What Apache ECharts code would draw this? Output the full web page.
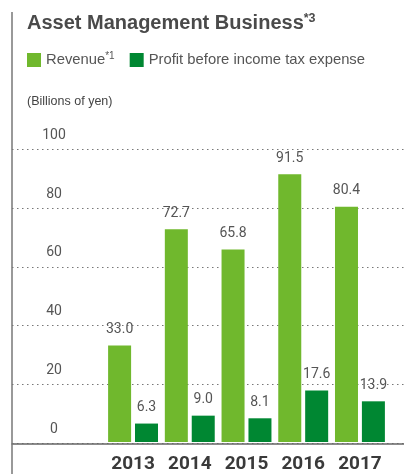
<!DOCTYPE html>
<html><head><meta charset="utf-8">
<script src="https://cdn.jsdelivr.net/npm/echarts@6/dist/echarts.min.js"></script>
<style>html,body{margin:0;padding:0;background:#fff}#c{width:404px;height:474px}</style>
</head><body><div id="c"></div>
<script>
const categories = ['2013','2014','2015','2016','2017'];
const revenue = [33.0, 72.7, 65.8, 91.5, 80.4];
const profit = [6.3, 9.0, 8.1, 17.6, 13.9];
const yTicks = [0, 20, 40, 60, 80, 100];

const chart = echarts.init(document.getElementById('c'), null, {renderer:'canvas'});
const labelStyle = {show:true, position:'top', distance:9, color:'#555', fontFamily:'Roboto', fontSize:14,
  formatter: p => p.value.toFixed(1)};
chart.setOption({
  animation:false,
  title:[
    {text:'Asset Management Business{sup|*3}', left:22, top:7, padding:5,
     textStyle:{fontFamily:'Liberation Sans', fontWeight:'bold', fontSize:20, color:'#4a4a4a',
       rich:{sup:{fontFamily:'Liberation Sans', fontWeight:'bold', fontSize:12.5, color:'#4a4a4a', verticalAlign:'top', padding:[0,0,10,0]}}}},
    {text:'(Billions of yen)', left:22, top:90,
     textStyle:{fontFamily:'Liberation Sans', fontWeight:'normal', fontSize:12.5, color:'#444'}}
  ],
  legend:{left:22, top:46, itemWidth:14, itemHeight:14, itemGap:15, icon:'rect',
    textStyle:{fontFamily:'Liberation Sans', fontSize:14.8, color:'#555',
      rich:{sup:{fontSize:10, color:'#555', padding:[0,0,8,0]}}},
    formatter: n => n === 'Revenue' ? 'Revenue{sup|*1}' : n,
    data:['Revenue','Profit before income tax expense']},
  grid:[
    {left:12, right:0, top:149.3, bottom:30.7},
    {left:104.7, right:15.7, top:149.3, bottom:30.7}
  ],
  xAxis:[
    {gridIndex:0, type:'value', min:0, max:1, axisLine:{show:true, onZero:false, lineStyle:{color:'#666', width:1.5}},
     axisTick:{show:false}, axisLabel:{show:false}, splitLine:{show:false}},
    {gridIndex:1, type:'category', data:categories, axisLine:{show:false}, axisTick:{show:false},
     axisLabel:{margin:13, fontFamily:'Roboto', fontWeight:'bold', fontSize:19, color:'#3a3a3a'}}
  ],
  yAxis:[
    {gridIndex:0, type:'value', min:0, max:100, interval:20, axisLine:{show:false}, axisTick:{show:false},
     axisLabel:{inside:true, margin:42, align:'center', verticalAlign:'bottom', padding:[0,0,7,0],
       fontFamily:'Roboto', fontSize:14, color:'#555',
       formatter: v => yTicks.includes(v) ? String(v) : ''},
     splitLine:{show:true, lineStyle:{type:[1.5,3.5], color:'#777', width:1}}},
    {gridIndex:1, type:'value', min:0, max:100, interval:20, show:false, splitLine:{show:false}}
  ],
  series:[
    {name:'Revenue', type:'bar', xAxisIndex:1, yAxisIndex:1, data:revenue, barWidth:23, barGap:'17%',
     itemStyle:{color:'#70b82d'}, label:labelStyle},
    {name:'Profit before income tax expense', type:'bar', xAxisIndex:1, yAxisIndex:1, data:profit, barWidth:23, barGap:'17%',
     itemStyle:{color:'#008732'}, label:labelStyle}
  ],
  graphic:[
    {type:'line', shape:{x1:12, y1:12, x2:12, y2:474}, style:{stroke:'#777', lineWidth:1.5}, z:100}
  ]
});
</script></body></html>
